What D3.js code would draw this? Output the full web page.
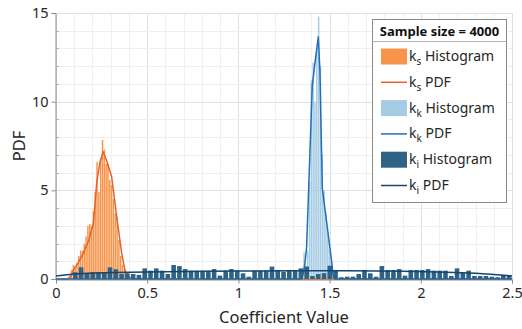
<!DOCTYPE html>
<html>
<head>
<meta charset="utf-8">
<script src="https://cdn.jsdelivr.net/npm/d3@7/dist/d3.min.js"></script>
<style>
  html, body { margin: 0; padding: 0; background: #fff; }
  svg { display: block; font-family: "Noto Sans", "Open Sans", sans-serif; }
</style>
</head>
<body>
<svg id="chart" width="522" height="329"></svg>
<script>
// ---- data ----------------------------------------------------------------
// ks histogram: bins of width 0.01 starting at ksStart
const ksStart = 0.07, ksWidth = 0.01;
const ksHist = [0.2, 0.5, 0.8, 0.7, 0.9, 1.3, 1.6, 1.6, 2.0, 2.4, 3.0, 3.1, 3.0, 3.8,
  4.9, 6.6, 4.9, 6.8, 7.84, 7.3, 6.5, 6.5, 5.6, 5.3, 4.5, 3.7, 3.5, 2.2, 1.3, 0.8, 0.5, 0.3, 0.1];
const ksPdfX = [0, 0.06, 0.08, 0.095, 0.12, 0.15, 0.18, 0.205, 0.223, 0.241, 0.259, 0.28, 0.305, 0.333, 0.36, 0.378, 0.396, 0.42, 2.5];
const ksPdfY = [0, 0, 0.1, 0.5, 0.9, 1.45, 2.2, 3.14, 5.4, 6.6, 7.18, 6.6, 5.77, 3.5, 1.45, 0.5, 0.13, 0, 0];

// kk histogram: bins of width 0.01 starting at kkStart
const kkStart = 1.355, kkWidth = 0.01;
const kkHist = [1.5, 0.8, 1.6, 5.5, 11.2, 12.2, 10.0, 13.0, 14.8, 12.0, 7.0, 5.0, 3.6, 2.6, 1.6, 1.0, 0.3];
const kkPdfX = [0, 1.30, 1.345, 1.356, 1.366, 1.374, 1.39, 1.405, 1.42, 1.438, 1.447, 1.46, 1.484, 1.511, 1.52, 1.53, 2.5];
const kkPdfY = [0, 0, 0, 0.3, 1.0, 1.8, 6.5, 10.9, 12.2, 13.66, 11.7, 5.1, 3.2, 1.0, 0.1, 0, 0];

// ki histogram: 76 bins spanning kiStart..2.5
const kiStart = 0.09, kiEnd = 2.5;
const kiHist = [0.38, 0.66, 0.32, 0.38, 0.36, 0.36, 0.66, 0.55, 0.28, 0.32, 0.28, 0.23, 0.6, 0.47,
  0.6, 0.47, 0.28, 0.79, 0.73, 0.56, 0.47, 0.47, 0.47, 0.47, 0.56, 0.19, 0.47, 0.56, 0.47, 0.32,
  0.13, 0.47, 0.47, 0.47, 0.70, 0.51, 0.41, 0.47, 0.47,
  0.6, 0.7, 0.17, 0.28, 0.33, 0.75, 0.45, 0.1, 0.13, 0.13, 0.28, 0.51, 0.32, 0.13, 0.73, 0.51,
  0.51, 0.56, 0.19, 0.51, 0.51, 0.51, 0.56, 0.47, 0.47, 0.47, 0.17, 0.6, 0.36, 0.47, 0.17, 0.17,
  0.17, 0.13, 0.1, 0.23, 0.2];
const kiPdfX = [0, 0.1, 0.2, 0.4, 0.7, 1.0, 1.3, 1.6, 1.9, 2.1, 2.3, 2.4, 2.5];
const kiPdfY = [0.17, 0.28, 0.34, 0.38, 0.42, 0.45, 0.47, 0.46, 0.44, 0.4, 0.32, 0.25, 0.17];

const xTicks = [0, 0.5, 1, 1.5, 2, 2.5];
const xTickLabels = ["0", "0.5", "1", "1.5", "2", "2.5"];
const yTicks = [0, 5, 10, 15];
const yTickLabels = ["0", "5", "10", "15"];

const legendTitle = "Sample size = 4000";
const legendItems = [
  { sub: "s", text: " Histogram", kind: "rect", color: "#f8944a" },
  { sub: "s", text: " PDF", kind: "line", color: "#e0642c" },
  { sub: "k", text: " Histogram", kind: "rect", color: "#a5cce4" },
  { sub: "k", text: " PDF", kind: "line", color: "#1f70b8" },
  { sub: "i", text: " Histogram", kind: "rect", color: "#2f6386" },
  { sub: "i", text: " PDF", kind: "line", color: "#16456e" }
];

// ---- layout ----------------------------------------------------------------
const W = 522, H = 329;
const margin = { left: 56, right: 10, top: 13, bottom: 50 };
const svg = d3.select("#chart");

const x = d3.scaleLinear().domain([0, 2.5]).range([margin.left, W - margin.right]);
const y = d3.scaleLinear().domain([0, 15]).range([H - margin.bottom, margin.top]);

// grid
const grid = svg.append("g");
d3.range(0, 26).forEach(i => {
  const v = i / 10;
  grid.append("line")
    .attr("x1", Math.round(x(v)) + 0.5).attr("x2", Math.round(x(v)) + 0.5)
    .attr("y1", y(15)).attr("y2", y(0))
    .attr("stroke", i % 5 === 0 ? "#e0e0e0" : "#efefef").attr("stroke-width", 1);
});
d3.range(0, 16).forEach(v => {
  grid.append("line")
    .attr("x1", x(0)).attr("x2", x(2.5))
    .attr("y1", Math.round(y(v)) + 0.5).attr("y2", Math.round(y(v)) + 0.5)
    .attr("stroke", v % 5 === 0 ? "#e0e0e0" : "#efefef").attr("stroke-width", 1);
});

// axes
const yAxis = svg.append("g")
  .attr("transform", `translate(${margin.left - 0.5},0)`)
  .call(d3.axisLeft(y).tickValues(yTicks).tickFormat((d, i) => yTickLabels[i]).tickSize(4).tickPadding(3));
const xAxis = svg.append("g")
  .attr("transform", `translate(0,${H - margin.bottom + 0.5})`)
  .call(d3.axisBottom(x).tickValues(xTicks).tickFormat((d, i) => xTickLabels[i]).tickSize(4).tickPadding(4));
[xAxis, yAxis].forEach(a => {
  a.select(".domain").attr("stroke", "#8a8a8a");
  a.selectAll(".tick line").attr("stroke", "#8a8a8a");
  a.selectAll(".tick text").attr("fill", "#262626").style("font-size", "14.5px").style("font-family", "'Noto Sans', sans-serif");
});
// minor inward ticks on the y axis
d3.range(1, 15).filter(v => v % 5 !== 0).forEach(v => {
  svg.append("line")
    .attr("x1", margin.left).attr("x2", margin.left + 3)
    .attr("y1", Math.round(y(v)) + 0.5).attr("y2", Math.round(y(v)) + 0.5)
    .attr("stroke", "#b0b0b0");
});

// histogram helper
function drawHist(values, start, width, color, gap) {
  svg.append("g").selectAll("rect").data(values).enter().append("rect")
    .attr("x", (d, i) => x(start + i * width) + gap / 2)
    .attr("width", (d, i) => Math.max(0.3, x(start + (i + 1) * width) - x(start + i * width) - gap))
    .attr("y", d => y(d))
    .attr("height", d => y(0) - y(d))
    .attr("fill", color);
}
function drawPdf(xs, ys, color, w) {
  const line = d3.line().x(d => x(d[0])).y(d => y(d[1]));
  svg.append("path")
    .datum(xs.map((v, i) => [v, ys[i]]))
    .attr("d", line)
    .attr("fill", "none")
    .attr("stroke", color)
    .attr("stroke-width", w)
    .attr("stroke-linejoin", "round");
}

drawHist(ksHist, ksStart, ksWidth, "#f8944a", 0.35);
drawPdf(ksPdfX, ksPdfY, "#e0642c", 1.5);
drawHist(kkHist, kkStart, kkWidth, "#a5cce4", 0.35);
drawPdf(kkPdfX, kkPdfY, "#1f70b8", 1.5);
const kiWidth = (kiEnd - kiStart) / kiHist.length;
drawHist(kiHist, kiStart, kiWidth, "#2f6386", 1.2);
drawPdf(kiPdfX, kiPdfY, "#16456e", 1.5);

// axis titles
svg.append("text")
  .attr("x", (x(0) + x(2.5)) / 2).attr("y", 322.5)
  .attr("text-anchor", "middle")
  .attr("fill", "#262626")
  .style("font-size", "16.5px")
  .text("Coefficient Value");
svg.append("text")
  .attr("transform", `translate(24.5,${(y(0) + y(15)) / 2}) rotate(-90)`)
  .attr("text-anchor", "middle")
  .attr("fill", "#262626")
  .style("font-size", "16.5px")
  .text("PDF");

// legend
const lg = svg.append("g");
const lgX = 372, lgY = 19.5, lgW = 134, lgH = 183;
lg.append("rect").attr("x", lgX + 0.5).attr("y", lgY).attr("width", lgW).attr("height", lgH)
  .attr("fill", "#fff").attr("stroke", "#8a8a8a");
lg.append("line").attr("x1", lgX + 0.5).attr("x2", lgX + lgW + 0.5)
  .attr("y1", 41.5).attr("y2", 41.5).attr("stroke", "#b5b5b5");
lg.append("text").attr("x", lgX + lgW / 2 + 0.5).attr("y", 35.5)
  .attr("text-anchor", "middle").attr("fill", "#111")
  .style("font-size", "13px").style("font-weight", "bold")
  .text(legendTitle);

legendItems.forEach((it, i) => {
  const cy = 56.5 + i * 25.8;
  if (it.kind === "rect") {
    lg.append("rect").attr("x", 381).attr("y", cy - 8).attr("width", 26).attr("height", 16)
      .attr("fill", it.color);
  } else {
    lg.append("line").attr("x1", 381).attr("x2", 407).attr("y1", cy).attr("y2", cy)
      .attr("stroke", it.color).attr("stroke-width", 1.5);
  }
  const t = lg.append("text").attr("x", 409).attr("y", cy + 4.5).attr("fill", "#262626")
    .style("font-size", "14px");
  t.append("tspan").text("k");
  t.append("tspan").attr("dy", 4).style("font-size", "10px").text(it.sub);
  t.append("tspan").attr("dy", -4).text(it.text);
});
</script>
</body>
</html>
